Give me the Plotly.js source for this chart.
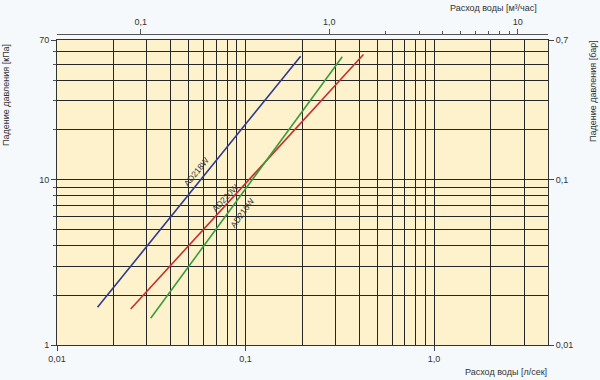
<!DOCTYPE html>
<html>
<head>
<meta charset="utf-8">
<script src="https://cdn.plot.ly/plotly-3.0.1.min.js"></script>
<style>html,body{margin:0;padding:0;background:#f5f9fc;}#chart{width:600px;height:380px;}</style>
</head>
<body>
<div id="chart"></div>
<script>
// Series (flow l/s, pressure drop kPa)
const seriesNames = ['AD218W', 'AD220W', 'AD216W'];
const flowAD218W = [0.0164, 0.196];
const dpAD218W = [1.69, 55.9];
const flowAD220W = [0.0246, 0.422];
const dpAD220W = [1.65, 57.2];
const flowAD216W = [0.0314, 0.326];
const dpAD216W = [1.45, 55.4];
const seriesColors = ['#2e3a8a', '#c4302b', '#3a9a3c'];

// Axis ticks
const xMajorVals = [0.01, 0.1, 1];
const xMajorText = ['0,01', '0,1', '1,0'];
const xMinorVals = [0.02,0.03,0.04,0.05,0.06,0.07,0.08,0.09,0.2,0.3,0.4,0.5,0.6,0.7,0.8,0.9,2,3];
const yMajorVals = [1, 10, 70];
const yMajorText = ['1', '10', '70'];
const yMinorVals = [2,3,4,5,6,7,8,9,20,30,40,50,60];
const y2Vals = [0.01, 0.1, 0.7];
const y2Text = ['0,01', '0,1', '0,7'];
const x2MajorVals = [0.1, 1, 10];
const x2MajorText = ['0,1', '1,0', '10'];
const x2MinorVals = [2,3,4,5,6,7,8,9];

const xMin = 0.01, xMax = 4.02;
const yMin = 1, yMax = 70;
const m3hPerLs = 3.6;   // l/s -> m3/h
const barPerKPa = 0.01; // kPa -> bar

const L = Math.log10;
const font = {family: 'Liberation Sans, Arial, sans-serif', size: 9, color: '#333'};
const grid = '#262626';

const flows = [flowAD218W, flowAD220W, flowAD216W];
const dps = [dpAD218W, dpAD220W, dpAD216W];
const traces = seriesNames.map((n, i) => ({
  x: flows[i], y: dps[i], name: n, type: 'scatter', mode: 'lines',
  line: {color: seriesColors[i], width: 1.6}, hoverinfo: 'skip'
}));
// Secondary-unit copies of the first series (invisible) so the top and right axes are drawn
traces.push({x: flowAD218W.map(v => v * m3hPerLs), y: dpAD218W, xaxis: 'x2', yaxis: 'y',
  type: 'scatter', mode: 'lines', line: {width: 0, color: 'rgba(0,0,0,0)'}, hoverinfo: 'skip'});
traces.push({x: flowAD218W, y: dpAD218W.map(v => v * barPerKPa), xaxis: 'x', yaxis: 'y2',
  type: 'scatter', mode: 'lines', line: {width: 0, color: 'rgba(0,0,0,0)'}, hoverinfo: 'skip'});

const W = 600, H = 380, ml = 57, mr = 52, mt = 34, mb = 35;
const pw = W - ml - mr, ph = H - mt - mb;
const plotTop = 40;
const px2x = p => (p - ml) / pw;
const py2y = p => (H - mb - p) / ph;

const layout = {
  width: W, height: H,
  margin: {l: ml, r: mr, t: mt, b: mb, pad: 0},
  paper_bgcolor: '#f5f9fc', plot_bgcolor: '#fdf2cc',
  showlegend: false, font: font,
  xaxis: {
    type: 'log', range: [L(xMin), L(xMax)], tickvals: xMajorVals, ticktext: xMajorText,
    ticks: 'outside', ticklen: 5, tickcolor: '#444', tickwidth: 1,
    showgrid: true, gridcolor: grid, gridwidth: 1,
    minor: {tickvals: xMinorVals, showgrid: true, gridcolor: grid, gridwidth: 1, ticks: ''},
    showline: true, linecolor: '#333', linewidth: 1, mirror: true, zeroline: false,
    tickfont: font, fixedrange: true
  },
  xaxis2: {
    type: 'log', overlaying: 'x', side: 'top', anchor: 'free', position: 1,
    range: [L(xMin * m3hPerLs), L(xMax * m3hPerLs)],
    tickvals: x2MajorVals, ticktext: x2MajorText,
    ticks: 'outside', ticklen: 5, tickcolor: '#555', tickwidth: 1,
    minor: {tickvals: x2MinorVals, ticks: 'outside', ticklen: 3, tickcolor: '#555', showgrid: false},
    showgrid: false, showline: true, linecolor: '#555', linewidth: 1, zeroline: false,
    tickfont: font, fixedrange: true
  },
  yaxis: {
    type: 'log', range: [L(yMin), L(yMax)], domain: [0, (H - mb - plotTop) / ph],
    tickvals: yMajorVals, ticktext: yMajorText,
    ticks: 'outside', ticklen: 5, tickcolor: '#444', tickwidth: 1,
    showgrid: true, gridcolor: grid, gridwidth: 1,
    minor: {tickvals: yMinorVals, showgrid: true, gridcolor: grid, gridwidth: 1, ticks: 'outside', ticklen: 3, tickcolor: '#555'},
    showline: true, linecolor: '#333', linewidth: 1, mirror: true, zeroline: false,
    tickfont: font, fixedrange: true
  },
  yaxis2: {
    type: 'log', overlaying: 'y', side: 'right', range: [L(yMin * barPerKPa), L(yMax * barPerKPa)],
    tickvals: y2Vals, ticktext: y2Text,
    ticks: 'outside', ticklen: 5, tickcolor: '#444', tickwidth: 1,
    showgrid: false, showline: false, zeroline: false,
    tickfont: font, fixedrange: true
  },
  annotations: [
    {text: 'Падение давления [кПа]', xref: 'paper', yref: 'paper', x: px2x(6), y: py2y(95), textangle: -90, showarrow: false, font: font, xanchor: 'center', yanchor: 'middle'},
    {text: 'Падение давления [бар]', xref: 'paper', yref: 'paper', x: px2x(593), y: py2y(91), textangle: -90, showarrow: false, font: font, xanchor: 'center', yanchor: 'middle'},
    {text: 'Расход воды [л/сек]', xref: 'paper', yref: 'paper', x: px2x(549), y: py2y(372), showarrow: false, font: font, xanchor: 'right', yanchor: 'middle'},
    {text: 'Расход воды [м³/час]', xref: 'paper', yref: 'paper', x: px2x(539), y: py2y(8), showarrow: false, font: font, xanchor: 'right', yanchor: 'middle'},
    {text: 'AD218W', xref: 'x', yref: 'y', x: -1.2626, y: 1.0485, textangle: -51, showarrow: false, font: {family: font.family, size: 8.5, color: '#333'}},
    {text: 'AD220W', xref: 'x', yref: 'y', x: -1.1088, y: 0.891, textangle: -47, showarrow: false, font: {family: font.family, size: 8.5, color: '#333'}},
    {text: 'AD216W', xref: 'x', yref: 'y', x: -1.0186, y: 0.80, textangle: -54, showarrow: false, font: {family: font.family, size: 8.5, color: '#333'}}
  ]
};

Plotly.newPlot('chart', traces, layout, {staticPlot: true, displayModeBar: false});
</script>
</body>
</html>
